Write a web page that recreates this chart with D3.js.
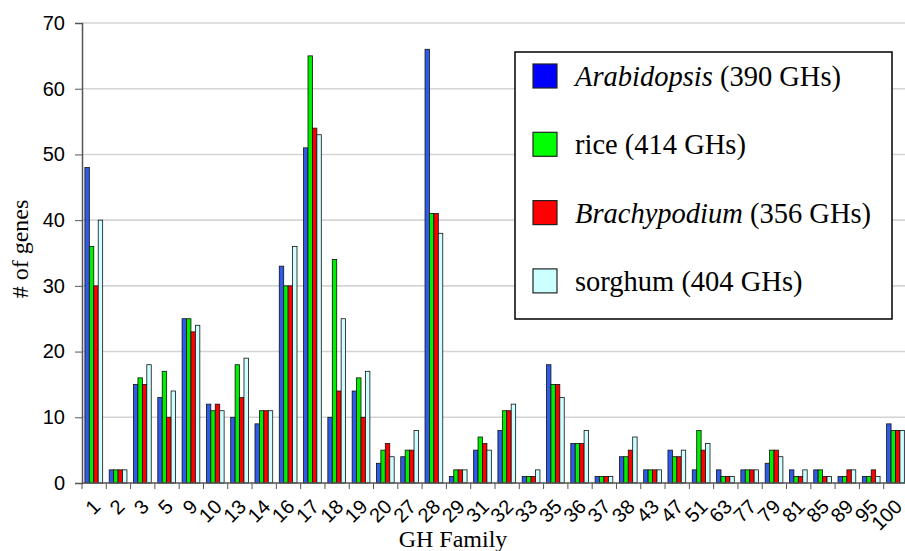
<!DOCTYPE html>
<html>
<head>
<meta charset="utf-8">
<script src="https://cdn.jsdelivr.net/npm/d3@7"></script>
<style>
  body { margin: 0; background: #fff; }
  svg { display: block; }
</style>
</head>
<body>
<div id="chart"></div>
<script>
// GH family gene counts per species
const families = ["1","2","3","5","9","10","13","14","16","17","18","19","20","27","28","29","31",
                  "32","33","35","36","37","38","43","47","51","63","77","79","81","85","89","95","100"];
const arabidopsis  = [48,2,15,13,25,12,10,9,33,51,10,14,3,4,66,1,5,8,1,18,6,1,4,2,5,2,2,2,3,2,2,1,1,9];
const rice         = [36,2,16,17,25,11,18,11,30,65,34,16,5,5,41,2,7,11,1,15,6,1,4,2,4,8,1,2,5,1,2,1,1,8];
const brachypodium = [30,2,15,10,23,12,13,11,30,54,14,10,6,5,41,2,6,11,1,15,6,1,5,2,4,5,1,2,5,1,1,2,2,8];
const sorghum      = [40,2,18,14,24,11,19,11,36,53,25,17,4,8,38,2,5,12,2,13,8,1,7,2,5,6,1,2,4,2,1,2,1,8];

const seriesNames = ["Arabidopsis", "rice", "Brachypodium", "sorghum"];
const seriesTotals = ["(390 GHs)", "(414 GHs)", "(356 GHs)", "(404 GHs)"];
const seriesItalic = [true, false, true, false];
const seriesValues = [arabidopsis, rice, brachypodium, sorghum];
const barColors = ["#2f5bea", "#00ee00", "#ff0000", "#ccffff"];
const legendColors = ["#0000ff", "#00ff00", "#ff0000", "#ccffff"];
const yTicks = [0, 10, 20, 30, 40, 50, 60, 70];

const SANS = "'Liberation Sans', Arial, sans-serif";
const SERIF = "'Times New Roman', 'Liberation Serif', 'DejaVu Serif', serif";

const W = 905, H = 551;
const margin = { top: 23, right: -3, bottom: 68, left: 82 };
const iw = W - margin.left - margin.right;
const ih = H - margin.top - margin.bottom;

const svg = d3.select("#chart").append("svg")
    .attr("width", W).attr("height", H);
const g = svg.append("g").attr("transform", `translate(${margin.left},${margin.top})`);

const x0 = d3.scaleBand().domain(families).range([0, iw]);
const x1 = d3.scaleBand().domain(d3.range(4))
    .range([x0.bandwidth() * 0.12, x0.bandwidth() * 0.85]);
const y = d3.scaleLinear().domain([0, 70]).range([ih, 0]);

// gridlines
g.selectAll("line.grid").data(yTicks.slice(1)).enter().append("line")
    .attr("class", "grid")
    .attr("x1", 0).attr("x2", iw)
    .attr("y1", d => y(d)).attr("y2", d => y(d))
    .attr("stroke", "#d4d4d4").attr("stroke-width", 1.6);

// bars
const groups = g.selectAll("g.fam").data(families).enter().append("g")
    .attr("class", "fam")
    .attr("transform", d => `translate(${x0(d)},0)`);

groups.selectAll("rect")
    .data((d, i) => seriesValues.map((vals, s) => ({ s: s, v: vals[i] })))
    .enter().append("rect")
    .attr("x", d => x1(d.s))
    .attr("width", x1.bandwidth())
    .attr("y", d => y(d.v))
    .attr("height", d => ih - y(d.v))
    .attr("fill", d => barColors[d.s])
    .attr("stroke", "#111")
    .attr("stroke-width", 0.8);

// y axis
const yAxis = g.append("g")
    .call(d3.axisLeft(y).tickValues(yTicks).tickSize(7).tickPadding(10));
yAxis.select(".domain").attr("stroke", "#555").attr("stroke-width", 1.5);
yAxis.selectAll(".tick line").attr("stroke", "#555");
yAxis.selectAll("text")
    .attr("font-family", SANS)
    .attr("font-size", 20).attr("fill", "#000");

// x axis: ticks at band boundaries
const xAxis = g.append("g").attr("transform", `translate(0,${ih})`);
xAxis.append("line").attr("x1", 0).attr("x2", iw)
    .attr("stroke", "#555").attr("stroke-width", 1.5);
xAxis.selectAll("line.tk").data(families).enter().append("line")
    .attr("class", "tk")
    .attr("x1", d => x0(d)).attr("x2", d => x0(d))
    .attr("y1", 0).attr("y2", 6)
    .attr("stroke", "#555");
xAxis.selectAll("text").data(families).enter().append("text")
    .attr("transform", d => `translate(${x0(d) + x0.bandwidth() / 2 + 2.5},${20}) rotate(-45)`)
    .attr("text-anchor", "end")
    .attr("dy", "0.35em")
    .attr("font-family", SANS)
    .attr("font-size", 20)
    .text(d => d);

// axis titles
svg.append("text")
    .attr("transform", `translate(28,249) rotate(-90)`)
    .attr("text-anchor", "middle")
    .attr("font-family", SERIF)
    .attr("font-size", 24)
    .text("# of genes");

svg.append("text")
    .attr("x", 453).attr("y", 547)
    .attr("text-anchor", "middle")
    .attr("font-family", SERIF)
    .attr("font-size", 24)
    .text("GH Family");

// legend
const legend = svg.append("g").attr("transform", "translate(515,52)");
legend.append("rect")
    .attr("width", 377).attr("height", 267)
    .attr("fill", "#fff").attr("stroke", "#000").attr("stroke-width", 1.5);

const items = legend.selectAll("g.item").data(seriesNames).enter().append("g")
    .attr("class", "item")
    .attr("transform", (d, i) => `translate(18,${12 + i * 68.3})`);
items.append("rect")
    .attr("width", 24).attr("height", 24)
    .attr("fill", (d, i) => legendColors[i])
    .attr("stroke", "#222").attr("stroke-width", 1.2);
const labels = items.append("text")
    .attr("x", 42).attr("y", 22)
    .attr("font-family", SERIF)
    .attr("font-size", 28.5);
labels.append("tspan")
    .attr("font-style", (d, i) => seriesItalic[i] ? "italic" : "normal")
    .text(d => d);
labels.append("tspan").text((d, i) => " " + seriesTotals[i]);
</script>
</body>
</html>
